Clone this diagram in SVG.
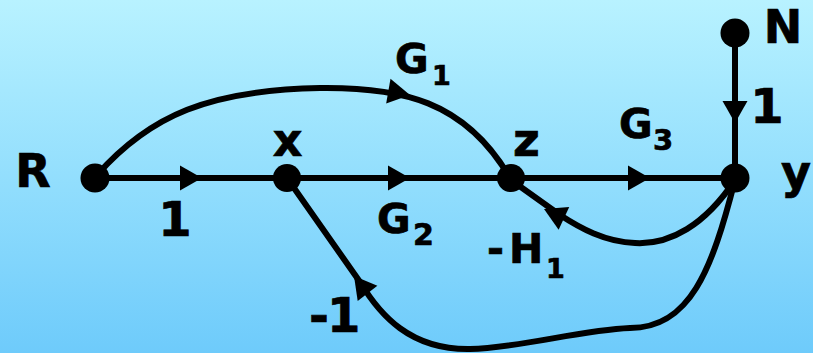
<svg xmlns="http://www.w3.org/2000/svg" xmlns:xlink="http://www.w3.org/1999/xlink" width="813" height="353" viewBox="0 0 813 353">
<defs>
<linearGradient id="bg" x1="0" y1="0" x2="0" y2="1">
<stop offset="0" stop-color="#b8f2ff"/>
<stop offset="1" stop-color="#6ecbfb"/>
</linearGradient>
<path id="ah" d="M0,0 L-22,-12.5 L-22,12.5 Z"/>
</defs>
<style>
.e{fill:none;stroke:#000;stroke-width:6;stroke-linecap:round;stroke-linejoin:round}
.n{fill:#000}
.a{fill:#000}
text{font-family:"DejaVu Sans","Verdana",sans-serif;font-weight:bold;fill:#000;stroke:#000;stroke-width:0.7}
.nl{font-size:46px}
.gl{font-size:41px}
.dl{font-size:48px}
</style>
<rect width="813" height="353" fill="url(#bg)"/>
<g id="connectors">
<path class="e" d="M95,178 L287,178"/>
<path class="e" d="M287,178 L511,178"/>
<path class="e" d="M511,178 L735,178"/>
<path class="e" d="M735,33 L735,178"/>
<path class="e" d="M97,175 C150,115 210,90 320,88 C400,87 465,100 510,178"/>
<path class="e" d="M735,180 C705,225 670,245 635,243 C605,242 580,228 560,215 L511,180"/>
<path class="e" d="M287,178 L360,282 C380,315 410,350 470,349 C520,348 580,330 630,328 C690,328 712,270 735,180"/>
<use xlink:href="#ah" class="a" transform="translate(202,178)"/>
<use xlink:href="#ah" class="a" transform="translate(410,178)"/>
<use xlink:href="#ah" class="a" transform="translate(650,178)"/>
<use xlink:href="#ah" class="a" transform="translate(735,123) rotate(90)"/>
<use xlink:href="#ah" class="a" transform="translate(410,95) rotate(10)"/>
<use xlink:href="#ah" class="a" transform="translate(544,209) rotate(205)"/>
<use xlink:href="#ah" class="a" transform="translate(354,276) rotate(232)"/>
</g>
<g id="node-R"><circle class="n" cx="95" cy="178" r="14.5"/><text class="nl" x="33" y="187" text-anchor="middle">R</text></g>
<g id="node-x"><circle class="n" cx="287" cy="178" r="14"/><text class="nl" x="287.5" y="156" text-anchor="middle">x</text></g>
<g id="node-z"><circle class="n" cx="511" cy="178" r="14"/><text class="nl" x="526.5" y="156" text-anchor="middle">z</text></g>
<g id="node-y"><circle class="n" cx="735" cy="178" r="14.5"/><text class="nl" x="796" y="188" text-anchor="middle">y</text></g>
<g id="node-N"><circle class="n" cx="735" cy="33" r="14.5"/><text class="nl" x="783" y="43" text-anchor="middle">N</text></g>
<g id="labels">
<text class="dl" x="175" y="236" text-anchor="middle">1</text>
<text class="dl" x="767" y="123" text-anchor="middle">1</text>
<text class="gl" x="395" y="73">G<tspan x="432" y="85" font-size="27">1</tspan></text>
<text class="gl" x="377" y="233">G<tspan x="413" y="245" font-size="30">2</tspan></text>
<text class="gl" x="619" y="138">G<tspan x="653" y="150" font-size="29">3</tspan></text>
<text class="gl" x="487" y="263">-<tspan x="509">H</tspan><tspan x="546" y="278" font-size="27">1</tspan></text>
<text class="dl" x="309" y="332">-<tspan x="327">1</tspan></text>
</g>
</svg>
